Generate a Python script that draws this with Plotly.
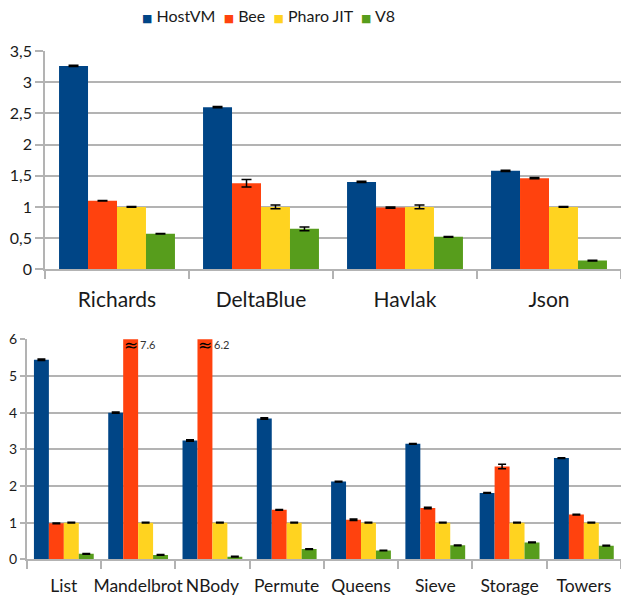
import plotly.graph_objects as go

# ---------------- data ----------------
series_names = ["HostVM", "Bee", "Pharo JIT", "V8"]
series_colors = ["#004586", "#ff420e", "#ffd320", "#579d1c"]

top_categories = ["Richards", "DeltaBlue", "Havlak", "Json"]
top_hostvm = [3.26, 2.60, 1.40, 1.58]
top_bee = [1.10, 1.38, 0.99, 1.46]
top_pharo = [1.00, 1.00, 1.00, 1.00]
top_v8 = [0.57, 0.65, 0.52, 0.14]
top_hostvm_err = [0.01, 0.01, 0.01, 0.01]
top_bee_err = [0.005, 0.06, 0.01, 0.01]
top_pharo_err = [0.005, 0.03, 0.03, 0.005]
top_v8_err = [0.005, 0.03, 0.005, 0.005]

bottom_categories = ["List", "Mandelbrot", "NBody", "Permute", "Queens", "Sieve", "Storage", "Towers"]
bottom_hostvm = [5.44, 4.00, 3.24, 3.84, 2.12, 3.15, 1.81, 2.76]
bottom_bee = [0.98, 7.6, 6.2, 1.35, 1.08, 1.40, 2.53, 1.22]
bottom_pharo = [1.00, 1.00, 1.00, 1.00, 1.00, 1.00, 1.00, 1.00]
bottom_v8 = [0.15, 0.12, 0.07, 0.28, 0.24, 0.38, 0.46, 0.37]
bottom_hostvm_err = [0.02, 0.02, 0.02, 0.02, 0.01, 0.01, 0.01, 0.01]
bottom_bee_err = [0.01, 0.0, 0.0, 0.01, 0.02, 0.02, 0.06, 0.01]
bottom_pharo_err = [0.01, 0.01, 0.01, 0.01, 0.01, 0.01, 0.01, 0.01]
bottom_v8_err = [0.01, 0.01, 0.01, 0.01, 0.01, 0.01, 0.01, 0.01]

top_y_max = 3.5
bottom_y_max = 6

# ---------------- figure ----------------
FONT = "Lato, 'DejaVu Sans', sans-serif"
GRID = "#b3b3b3"
W, H = 621, 599

fig = go.Figure()

top_vals = [top_hostvm, top_bee, top_pharo, top_v8]
top_errs = [top_hostvm_err, top_bee_err, top_pharo_err, top_v8_err]
bottom_vals = [bottom_hostvm, bottom_bee, bottom_pharo, bottom_v8]
bottom_errs = [bottom_hostvm_err, bottom_bee_err, bottom_pharo_err, bottom_v8_err]

for name, color, vals, errs in zip(series_names, series_colors, top_vals, top_errs):
    fig.add_trace(go.Bar(
        x=top_categories, y=vals, name=name, marker=dict(color=color, line=dict(width=0)),
        error_y=dict(type="data", array=errs, color="#000000", thickness=1.5, width=5),
        xaxis="x", yaxis="y", showlegend=False))

for name, color, vals, errs in zip(series_names, series_colors, bottom_vals, bottom_errs):
    fig.add_trace(go.Bar(
        x=bottom_categories, y=vals, name=name, marker=dict(color=color, line=dict(width=0)),
        error_y=dict(type="data", array=errs, color="#000000", thickness=1.5, width=4),
        xaxis="x2", yaxis="y2", showlegend=False))

# break markers for bars beyond the bottom axis range
bargap = 0.195
n_series = len(series_names)
cat_px = (1 - 26.7 / W) * W / len(bottom_categories)
bar_px = cat_px * (1 - bargap) / n_series
bee_offset = (-(n_series - 1) / 2 + 1) * bar_px
annotations = []
for cat, v in zip(bottom_categories, bottom_bee):
    if v > bottom_y_max:
        annotations.append(dict(x=cat, y=bottom_y_max, xref="x2", yref="y2", text="≈",
                                showarrow=False, xshift=bee_offset, yshift=-6,
                                font=dict(family="DejaVu Sans", size=17, color="#000000")))
        annotations.append(dict(x=cat, y=bottom_y_max, xref="x2", yref="y2", text=f"{v}",
                                showarrow=False, xshift=bee_offset + bar_px / 2 + 0, yshift=-5,
                                xanchor="left",
                                font=dict(family=FONT, size=11, color="#333333")))

# legend as text row
parts = []
for name, color in zip(series_names, series_colors):
    parts.append(f"<span style='color:{color};font-size:11px'>■</span> {name}")
annotations.append(dict(x=268 / W, y=1 - 15 / H, xref="paper", yref="paper",
                        text="  ".join(parts), showarrow=False, xanchor="center", yanchor="middle",
                        font=dict(family=FONT, size=16, color="#1a1a1a")))

axis_common = dict(showline=True, linecolor=GRID, linewidth=1.5, ticks="outside",
                   tickcolor=GRID, tickwidth=1.5, automargin=False)

fig.update_layout(
    template="none",
    width=W, height=H, margin=dict(l=0, r=0, t=0, b=0, pad=0, autoexpand=False),
    paper_bgcolor="white", plot_bgcolor="white",
    font=dict(family=FONT, color="#1a1a1a"),
    separators=", ",
    barmode="group", bargap=bargap, bargroupgap=0,
    showlegend=False,
    xaxis=dict(domain=[45 / W, 1], anchor="y", type="category", tickson="boundaries",
               ticklen=8, showgrid=False, tickfont=dict(size=21), ticklabelstandoff=11,
               tickangle=0, **axis_common),
    yaxis=dict(domain=[1 - 269.3 / H, 1 - 51 / H], anchor="x", range=[0, top_y_max], dtick=0.5,
               ticklen=8, showgrid=True, gridcolor=GRID, gridwidth=1.5, zeroline=False,
               tickfont=dict(size=16), **axis_common),
    xaxis2=dict(domain=[26.7 / W, 1], anchor="y2", type="category", tickson="boundaries",
                ticklen=8, showgrid=False, tickfont=dict(size=17.5), ticklabelstandoff=10,
                tickangle=0, **axis_common),
    yaxis2=dict(domain=[1 - 559.3 / H, 1 - 339.3 / H], anchor="x2", range=[0, bottom_y_max], dtick=1,
                ticklen=5, showgrid=True, gridcolor=GRID, gridwidth=1.5, zeroline=False,
                tickfont=dict(size=14), **axis_common),
    annotations=annotations,
)

fig.write_html("out.html", post_script="document.body.style.margin='0';",
               config={"displayModeBar": False})
